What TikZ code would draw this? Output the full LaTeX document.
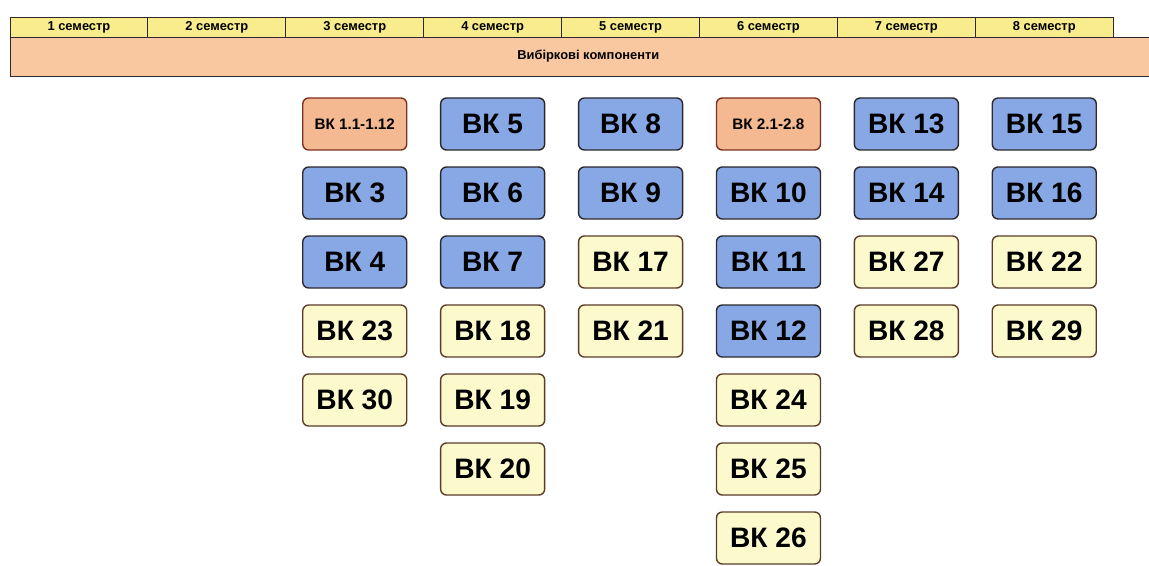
\documentclass[tikz,border=0pt]{standalone}
\usepackage{fontspec}
\setmainfont{Liberation Sans}
\usetikzlibrary{positioning}
\definecolor{semyellow}{RGB}{248,236,140}
\definecolor{bandpeach}{RGB}{250,200,160}
\definecolor{vkblue}{RGB}{135,168,228}
\definecolor{vkorange}{RGB}{245,185,145}
\definecolor{vkyellow}{RGB}{252,250,205}
\definecolor{edgedark}{RGB}{45,40,45}
\definecolor{edgebrown}{RGB}{90,60,40}
\tikzset{
  base/.style={font=\bfseries, text=black, align=center, inner sep=0pt},
  sem/.style={base, rectangle, draw=edgedark, fill=semyellow, line width=0.8pt, minimum width=4.137cm, minimum height=0.6cm, font=\bfseries\fontsize{11}{13}\selectfont},
  band/.style={base, rectangle, draw=edgedark, fill=bandpeach, line width=0.8pt, minimum width=34.7cm, minimum height=1.17cm, font=\bfseries\fontsize{11}{13}\selectfont},
  vk/.style={base, rectangle, rounded corners=5pt, line width=1.2pt, minimum width=3.12cm, minimum height=1.56cm, font=\bfseries\fontsize{24}{28}\selectfont},
  vkbl/.style={vk, draw=edgedark, fill=vkblue},
  vkye/.style={vk, draw=edgebrown, fill=vkyellow},
  vkor/.style={vk, draw=edgebrown!80!red, fill=vkorange, font=\bfseries\fontsize{13}{15}\selectfont},
}
\begin{document}
\begin{tikzpicture}
  \useasboundingbox (0,0) rectangle (34.47,-16.98);
  \foreach \i in {1,...,8}{
    \node[sem] (s\i) at ({0.3+4.137*(\i-0.5)},-0.81) {\i\ семестр};
  }
  \node[band] (vib) at (17.65,-1.695) {Вибіркові компоненти};
  % semester columns 3..8
  \foreach \c/\r/\n/\s/\t in {3/1/a/vkor/1.1-1.12, 3/2/3/vkbl/3, 3/3/4/vkbl/4, 3/4/23/vkye/23, 3/5/30/vkye/30,
    4/1/5/vkbl/5, 4/2/6/vkbl/6, 4/3/7/vkbl/7, 4/4/18/vkye/18, 4/5/19/vkye/19, 4/6/20/vkye/20,
    5/1/8/vkbl/8, 5/2/9/vkbl/9, 5/3/17/vkye/17, 5/4/21/vkye/21,
    6/1/b/vkor/2.1-2.8, 6/2/10/vkbl/10, 6/3/11/vkbl/11, 6/4/12/vkbl/12, 6/5/24/vkye/24, 6/6/25/vkye/25, 6/7/26/vkye/26,
    7/1/13/vkbl/13, 7/2/14/vkbl/14, 7/3/27/vkye/27, 7/4/28/vkye/28,
    8/1/15/vkbl/15, 8/2/16/vkbl/16, 8/3/22/vkye/22, 8/4/29/vkye/29}{
    \node[\s] (vk\n) at ({0.3+4.137*(\c-0.5)},{-3.72-2.07*(\r-1)}) {ВК \t};
  }
\end{tikzpicture}
\end{document}
